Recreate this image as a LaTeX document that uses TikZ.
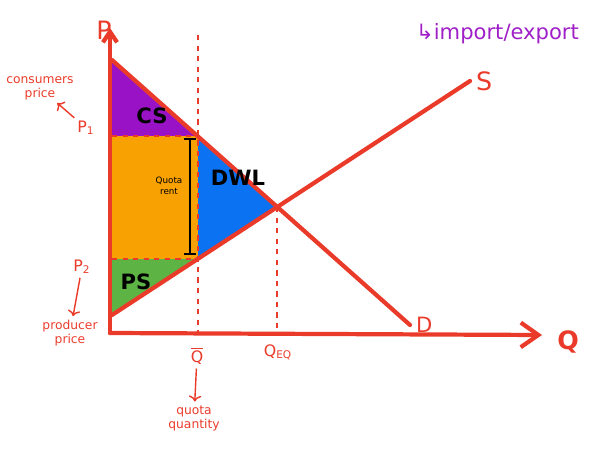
\documentclass[tikz,border=0pt]{standalone}
\usepackage{fontspec}
\setmainfont{DejaVu Sans}
\usetikzlibrary{arrows.meta}
\definecolor{mkred}{HTML}{EA3B2A}
\definecolor{cspurple}{HTML}{9A12C6}
\definecolor{rentorange}{HTML}{F8A102}
\definecolor{dwlblue}{HTML}{0B72F2}
\definecolor{psgreen}{HTML}{5DB445}
\definecolor{notepurple}{HTML}{A020C8}
\begin{document}
\begin{tikzpicture}[x=0.02cm, y=-0.02cm, font=\footnotesize]
\tikzset{curve/.style={draw=mkred, line width=2.4pt, line cap=round},
    guide/.style={draw=mkred, dashed, line width=1.5pt},
    lbl/.style={text=mkred, font=\scriptsize, align=center, inner sep=1pt},
    area/.style={font=\bfseries\large, text=black, inner sep=1pt},
    note/.style={->, draw=mkred, line width=0.8pt, shorten >=1pt, shorten <=1pt}}
\useasboundingbox (0,0) rectangle (597,462);

% key points of the market
\coordinate (O) at (110,333);
\coordinate (Ptop) at (110,28);
\coordinate (Qend) at (542,335);
\coordinate (dA) at (112,60);
\coordinate (dB) at (410,325);
\coordinate (sA) at (112,315);
\coordinate (sB) at (470,81);
\coordinate (E) at (277,207);
\coordinate (P1) at (112,136);
\coordinate (P2) at (112,259);
\coordinate (qD) at (198,136);
\coordinate (qS) at (198,259);
\coordinate (qTop) at (198,35);
\coordinate (qBot) at (198,333);
\coordinate (eBot) at (277,333);

% surplus areas
\fill[cspurple] (dA) -- (qD) -- (P1) -- cycle;
\fill[rentorange] (P1) rectangle (qS);
\fill[dwlblue] (qD) -- (E) -- (qS) -- cycle;
\fill[psgreen] (P2) -- (qS) -- (sA) -- cycle;

% price and quantity guides
\draw[guide] (P1) -- (qD);
\draw[guide] (P2) -- (qS);
\draw[guide] (qTop) -- (qBot);
\draw[guide] (E) -- (eBot);

% axes
\draw[curve, -{Straight Barb[length=6pt, width=8pt]}] (O) -- (Ptop);
\draw[curve, -{Straight Barb[length=10pt, width=14pt]}] (O) -- (Qend);
\node[text=mkred, font=\Large] (plab) at (104,30) {P};
\node[text=mkred, font=\Large\bfseries] (qlab) at (568,342) {Q};

% demand and supply
\draw[curve] (dA) -- (dB);
\draw[curve] (sA) -- (sB);
\node[text=mkred, font=\large, anchor=west] (dlab) at (dB) {D};
\node[text=mkred, font=\Large, anchor=west] (slab) at (sB) {S};

% quota rent bar
\draw[black, line width=1pt, {Bar[width=7pt]}-{Bar[width=7pt]}] (190,138) -- (190,255);
\node[font=\tiny, align=center] (rent) at (169,186) {Quota\\rent};

% area names
\node[area] (cs) at (152,116) {CS};
\node[area] (dwl) at (238,178) {DWL};
\node[area] (ps) at (136,282) {PS};

% price labels
\node[lbl, font=\small] (p1) at (86,128) {P\textsubscript{1}};
\node[lbl] (cprice) at (40,88) {consumers\\price};
\draw[note] (p1) -- (cprice);
\node[lbl, font=\small] (p2) at (82,267) {P\textsubscript{2}};
\node[lbl] (pprice) at (70,333) {producer\\price};
\draw[note] (p2) -- (pprice);

% quantity labels
\node[lbl, font=\small] (qbar) at (197,356) {$\overline{\mathrm{Q}}$};
\node[lbl] (qquant) at (194,418) {quota\\quantity};
\draw[note] (qbar) -- (qquant);
\node[lbl, font=\small] (qeq) at (278,352) {Q\textsubscript{EQ}};

% side note
\node[text=notepurple, font=\large, anchor=west] (trade) at (410,34) {↳import/export};

\end{tikzpicture}
\end{document}
